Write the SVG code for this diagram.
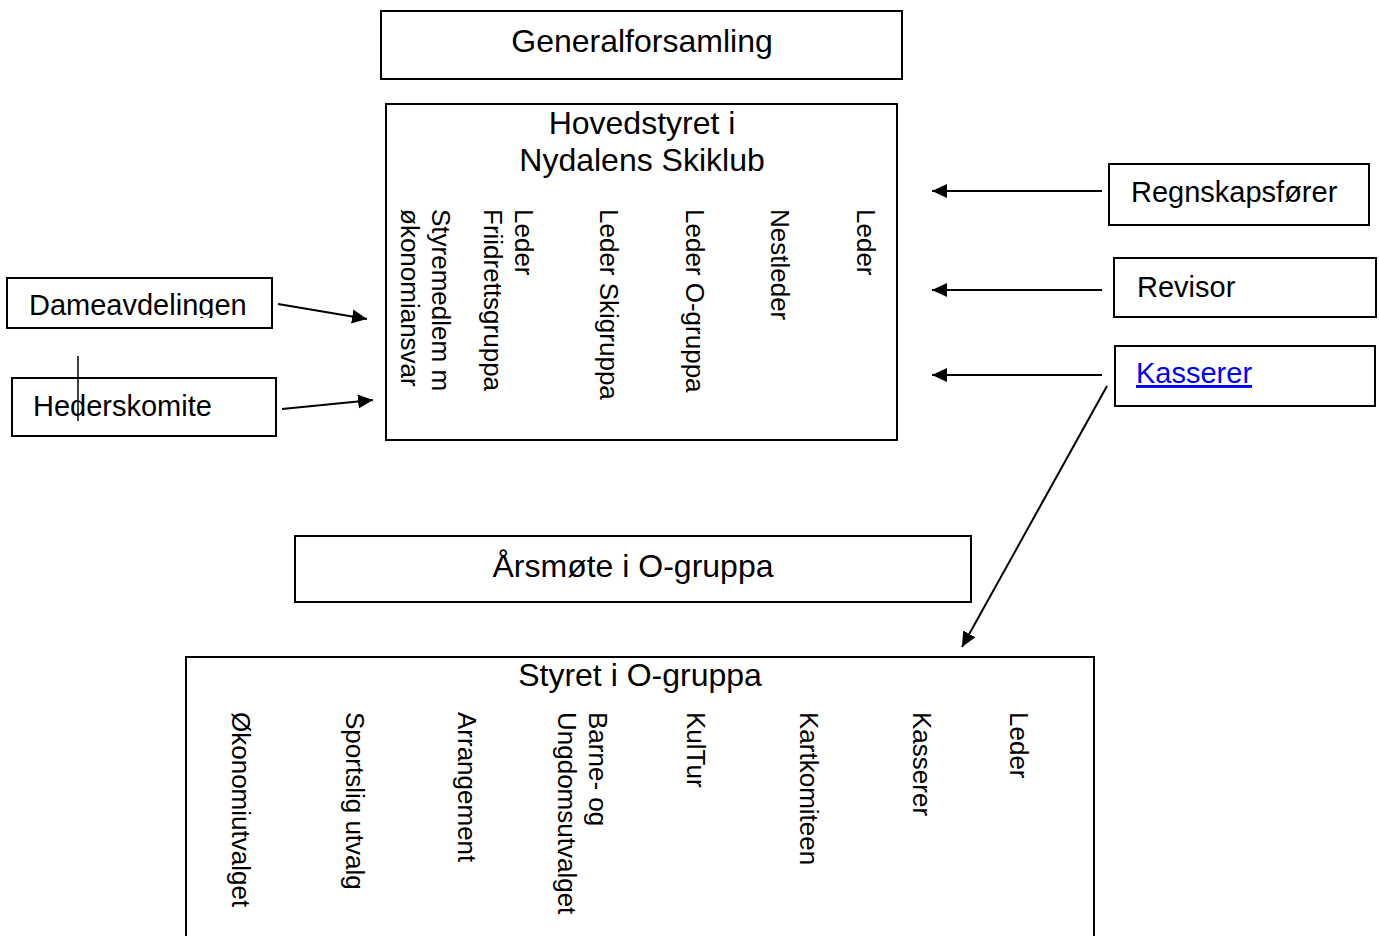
<svg xmlns="http://www.w3.org/2000/svg" width="1379" height="936" viewBox="0 0 1379 936">
<style>
  .box { fill: #ffffff; stroke: #000000; stroke-width: 2; }
  .t { font-family: "Liberation Sans", Arial, sans-serif; fill: #000000; }
  .title { font-size: 32px; text-anchor: middle; }
  .side { font-size: 29px; }
  .vert { font-size: 26px; }
  .link { fill: #0000FF; text-decoration: underline; }
  .conn { stroke: #000000; stroke-width: 2; fill: none; marker-end: url(#arrow); }
</style>
<defs>
  <marker id="arrow" markerUnits="userSpaceOnUse" markerWidth="16" markerHeight="16" viewBox="0 0 16 16" refX="15" refY="8" orient="auto">
    <path d="M0,1 L15,8 L0,15 Z" fill="#000000"/>
  </marker>
  <clipPath id="clipDame">
    <rect x="7" y="278" width="265" height="40"/>
  </clipPath>
</defs>
<rect width="1379" height="936" fill="#ffffff"/>

<g id="generalforsamling">
  <rect class="box" x="381" y="11" width="521" height="68"/>
  <text class="t title" x="642" y="52">Generalforsamling</text>
</g>

<g id="hovedstyret">
  <rect class="box" x="386" y="104" width="511" height="336"/>
  <text class="t title" x="642" y="134">Hovedstyret i</text>
  <text class="t title" x="642" y="171">Nydalens Skiklub</text>
  <text class="t vert" transform="translate(857,209) rotate(90)">Leder</text>
  <text class="t vert" transform="translate(771,209) rotate(90)">Nestleder</text>
  <text class="t vert" transform="translate(686,209) rotate(90)">Leder O-gruppa</text>
  <text class="t vert" transform="translate(600,209) rotate(90)">Leder Skigruppa</text>
  <text class="t vert" transform="translate(515,209) rotate(90)"><tspan x="0" y="0">Leder</tspan><tspan x="0" dy="31">Friidrettsgruppa</tspan></text>
  <text class="t vert" transform="translate(432,209) rotate(90)"><tspan x="0" y="0">Styremedlem m</tspan><tspan x="0" dy="31">økonomiansvar</tspan></text>
</g>

<g id="dameavdelingen">
  <rect class="box" x="7" y="278" width="265" height="50"/>
  <text class="t side" x="29" y="315" clip-path="url(#clipDame)">Dameavdelingen</text>
</g>

<g id="hederskomite">
  <rect class="box" x="12" y="378" width="264" height="58"/>
  <text class="t side" x="33" y="416">Hederskomite</text>
  <line x1="78" y1="356" x2="78" y2="421" stroke="#000000" stroke-width="1.5"/>
</g>

<g id="regnskapsforer">
  <rect class="box" x="1109" y="164" width="260" height="61"/>
  <text class="t side" x="1131" y="202">Regnskapsfører</text>
</g>

<g id="revisor">
  <rect class="box" x="1114" y="258" width="262" height="59"/>
  <text class="t side" x="1137" y="297">Revisor</text>
</g>

<g id="kasserer">
  <rect class="box" x="1115" y="346" width="260" height="60"/>
  <text class="t side link" x="1136" y="383">Kasserer</text>
</g>

<g id="arsmote">
  <rect class="box" x="295" y="536" width="676" height="66"/>
  <text class="t title" x="633" y="577">Årsmøte i O-gruppa</text>
</g>

<g id="styret-o-gruppa">
  <rect class="box" x="186" y="657" width="908" height="290"/>
  <text class="t title" x="640" y="686">Styret i O-gruppa</text>
  <text class="t vert" transform="translate(232,712) rotate(90)">Økonomiutvalget</text>
  <text class="t vert" transform="translate(346,712) rotate(90)">Sportslig utvalg</text>
  <text class="t vert" transform="translate(458,712) rotate(90)">Arrangement</text>
  <text class="t vert" transform="translate(589,712) rotate(90)"><tspan x="0" y="0">Barne- og</tspan><tspan x="0" dy="31">Ungdomsutvalget</tspan></text>
  <text class="t vert" transform="translate(687,712) rotate(90)">KulTur</text>
  <text class="t vert" transform="translate(800,712) rotate(90)">Kartkomiteen</text>
  <text class="t vert" transform="translate(913,712) rotate(90)">Kasserer</text>
  <text class="t vert" transform="translate(1010,712) rotate(90)">Leder</text>
</g>

<g id="connectors">
  <line class="conn" x1="278" y1="304" x2="367" y2="319"/>
  <line class="conn" x1="282" y1="409" x2="373" y2="400"/>
  <line class="conn" x1="1102" y1="191" x2="932" y2="191"/>
  <line class="conn" x1="1102" y1="290" x2="932" y2="290"/>
  <line class="conn" x1="1102" y1="375" x2="932" y2="375"/>
  <line class="conn" x1="1107" y1="386" x2="962" y2="647"/>
</g>
</svg>
